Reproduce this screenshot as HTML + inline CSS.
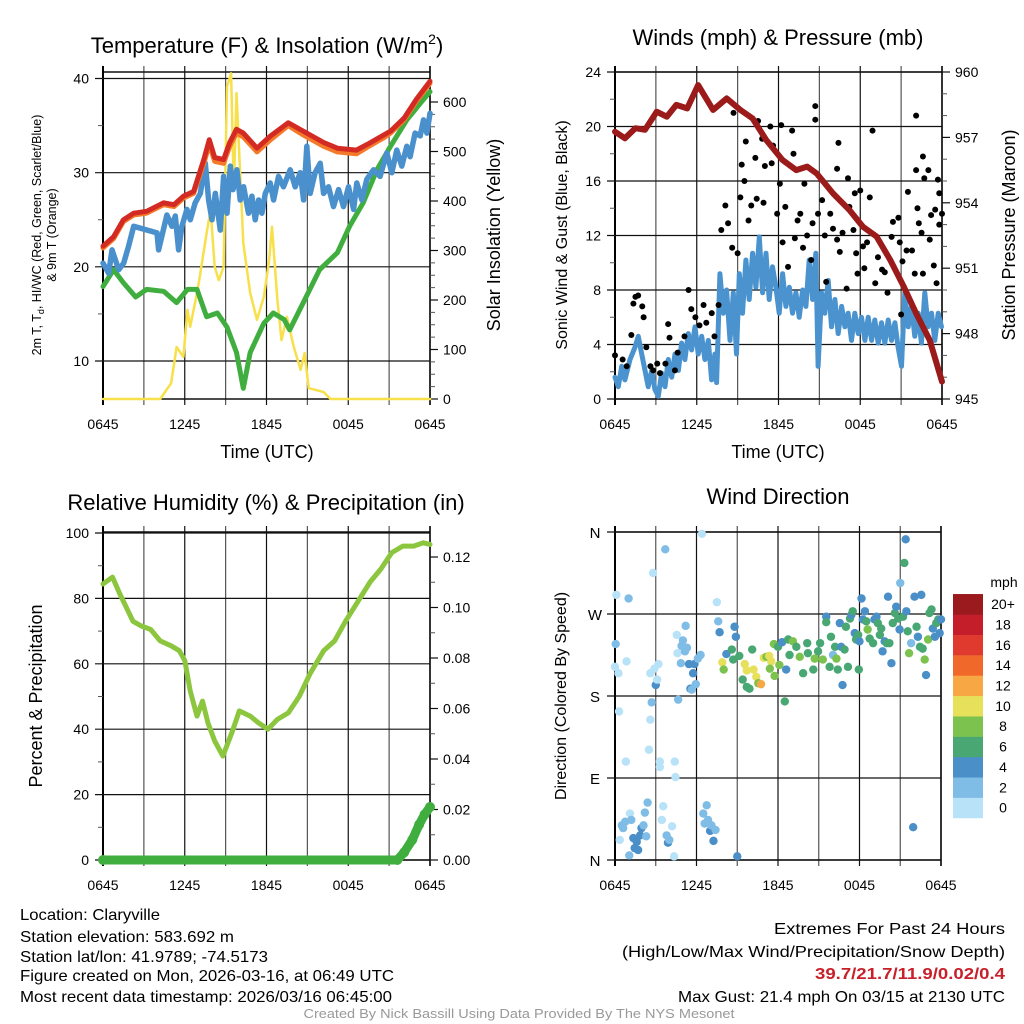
<!DOCTYPE html>
<html><head><meta charset="utf-8"><style>
html,body{margin:0;padding:0;background:#fff;}
svg{display:block;font-family:"Liberation Sans",sans-serif;}
</style></head><body>
<svg id="fig" width="1024" height="1024" viewBox="0 0 1024 1024" xmlns="http://www.w3.org/2000/svg">
<rect width="1024" height="1024" fill="#fff"/>
<g id="layer"></g>
<text x="267" y="53" font-size="22" text-anchor="middle">Temperature (F) &amp; Insolation (W/m<tspan font-size="14" dy="-9">2</tspan><tspan dy="9">)</tspan></text>
<text x="778" y="45" font-size="22" text-anchor="middle">Winds (mph) &amp; Pressure (mb)</text>
<text x="266" y="510" font-size="22" text-anchor="middle">Relative Humidity (%) &amp; Precipitation (in)</text>
<text x="778" y="504" font-size="22" text-anchor="middle">Wind Direction</text>
<text x="267" y="458" font-size="18" text-anchor="middle">Time (UTC)</text>
<text x="778" y="458" font-size="18" text-anchor="middle">Time (UTC)</text>
<text transform="translate(41,235) rotate(-90)" font-size="12.5" text-anchor="middle">2m T, T<tspan font-size="9" dy="3">d</tspan><tspan dy="-3">, HI/WC (Red, Green, Scarlet/Blue)</tspan></text>
<text transform="translate(56,235) rotate(-90)" font-size="12.5" text-anchor="middle">&amp; 9m T (Orange)</text>
<text transform="translate(500,235) rotate(-90)" font-size="18" text-anchor="middle">Solar Insolation (Yellow)</text>
<text transform="translate(567,235) rotate(-90)" font-size="16" text-anchor="middle">Sonic Wind &amp; Gust (Blue, Black)</text>
<text transform="translate(1015,235) rotate(-90)" font-size="18" text-anchor="middle">Station Pressure (Maroon)</text>
<text transform="translate(42,696) rotate(-90)" font-size="18" text-anchor="middle">Percent &amp; Precipitation</text>
<text transform="translate(566,696) rotate(-90)" font-size="16" text-anchor="middle">Direction (Colored By Speed)</text>
<text x="1004" y="587" font-size="14" text-anchor="middle">mph</text>
<g font-size="16">
<text x="20" y="920" textLength="140" lengthAdjust="spacingAndGlyphs">Location: Claryville</text>
<text x="20" y="942" textLength="214" lengthAdjust="spacingAndGlyphs">Station elevation: 583.692 m</text>
<text x="20" y="962" textLength="248" lengthAdjust="spacingAndGlyphs">Station lat/lon: 41.9789; -74.5173</text>
<text x="20" y="981" textLength="374" lengthAdjust="spacingAndGlyphs">Figure created on Mon, 2026-03-16, at 06:49 UTC</text>
<text x="20" y="1002" textLength="372" lengthAdjust="spacingAndGlyphs">Most recent data timestamp: 2026/03/16 06:45:00</text>
</g>
<g font-size="16">
<text x="1005" y="934" text-anchor="end" textLength="231" lengthAdjust="spacingAndGlyphs">Extremes For Past 24 Hours</text>
<text x="1005" y="957" text-anchor="end" textLength="383" lengthAdjust="spacingAndGlyphs">(High/Low/Max Wind/Precipitation/Snow Depth)</text>
<text x="1005" y="979" text-anchor="end" fill="#c8202a" font-weight="bold" textLength="190" lengthAdjust="spacingAndGlyphs">39.7/21.7/11.9/0.02/0.4</text>
<text x="1005" y="1002" text-anchor="end" textLength="327" lengthAdjust="spacingAndGlyphs">Max Gust: 21.4 mph On 03/15 at 2130 UTC</text>
</g>
<text x="519" y="1018" font-size="13" fill="#999" text-anchor="middle" textLength="431" lengthAdjust="spacingAndGlyphs">Created By Nick Bassill Using Data Provided By The NYS Mesonet</text>
</svg>
<script>
var timeLabels = ["0645","1245","1845","0045","0645"];
// Panel 1
var tempHours = [0,0.78,1.5,2.25,3.2,4.45,5.2,5.9,6.65,7.4,7.8,8.2,8.85,9.3,9.8,10.3,11.3,12.3,13.6,14.7,16.2,17.2,18.6,19.4,20.6,21.1,22.1,23.0,24];
var tempVals = [22.2,23.2,25.0,25.7,25.9,26.8,26.6,27.5,28.0,31.4,33.5,31.6,31.4,33.2,34.6,34.2,32.6,33.9,35.3,34.4,33.2,32.6,32.4,33.0,34.0,34.4,35.8,37.8,39.7];
var nineMVals = [22.0,23.0,24.8,25.5,25.7,26.6,26.4,27.3,27.8,31.0,33.0,31.2,31.0,32.8,34.2,33.8,32.2,33.5,35.0,34.0,32.8,32.2,32.0,32.7,33.7,34.2,35.6,37.6,39.5];
var hiHours = [0,0.42,0.66,1.15,1.52,1.88,2.25,3.96,4.08,4.69,5.06,5.31,5.55,5.79,6.16,6.41,6.77,7.14,7.51,7.75,8.0,8.24,8.61,8.85,9.1,9.34,9.54,9.83,10.07,10.32,10.68,10.93,11.17,11.42,11.66,11.91,12.27,12.52,12.88,13.25,13.74,14.11,14.47,14.72,14.96,15.21,15.57,15.94,16.19,16.55,16.92,17.29,17.65,18.02,18.39,18.63,19.0,19.36,19.85,20.34,20.83,21.2,21.56,21.93,22.3,22.54,22.91,23.28,23.52,23.77,24];
var hiVals = [20.4,19.3,21.8,19.7,20.4,22.2,24.3,23.6,21.8,25.5,24.3,25.4,21.8,24.3,26.1,25.0,26.8,27.8,31.0,27.1,25.0,27.8,23.9,29.6,25.7,30.7,28.2,30.3,27.1,28.5,25.7,27.5,25.0,27.1,25.7,27.8,28.9,27.1,29.6,28.5,30.3,28.5,30.0,27.1,32.8,27.8,30.0,31.0,27.8,28.5,26.4,28.2,26.4,28.5,26.1,28.9,27.1,29.3,30.3,29.6,32.1,30.0,32.4,30.7,32.8,31.7,34.2,33.9,35.6,34.2,36.3];
var dewHours = [0,0.78,1.5,2.4,3.2,4.45,5.4,6.2,6.9,7.6,8.4,9.1,9.8,10.3,10.8,11.8,12.5,13.3,13.7,14.7,15.9,17.2,18.1,19.1,20.1,21.1,22.3,23.3,24];
var dewVals = [17.9,19.7,18.3,16.8,17.6,17.4,16.2,17.6,17.6,14.7,15.1,13.6,10.9,7.1,10.9,14.0,15.1,14.4,13.3,16.2,19.7,21.5,24.3,26.8,30.3,32.8,35.6,37.4,38.6];
var solarHours = [0,4.2,5.0,5.4,5.9,6.2,6.4,6.9,7.1,7.6,7.9,8.2,8.5,8.85,9.1,9.4,9.6,9.8,10.3,10.8,11.3,11.8,12.2,12.4,12.8,13.1,13.5,14.0,14.5,14.8,15.1,16.2,16.7,17.2,24];
var solarVals = [0,0,32,105,85,180,146,214,246,335,382,267,240,267,631,658,422,618,315,214,160,206,281,348,200,119,166,105,59,93,22,14,0,0,0];
// Panel 2
var presHours = [0,0.73,1.5,2.2,3.06,3.8,4.5,5.3,6.1,7.2,8.2,9.2,10.1,11.1,12.3,13.3,14.1,14.8,16.0,17.2,18.2,19.2,20.2,21.2,22.1,23.1,24];
var presVals = [957.26,956.96,957.42,957.35,958.18,957.95,958.49,958.33,959.40,958.26,958.79,958.26,957.87,956.88,955.96,955.5,955.66,955.35,954.43,953.67,952.9,952.45,951.38,950.15,948.93,947.7,945.8];
var windHours = [0,0.24,0.49,0.73,1.1,1.47,1.71,1.96,2.2,2.44,2.69,2.93,3.18,3.42,3.67,3.91,4.16,4.4,4.65,4.89,5.13,5.38,5.62,5.87,6.11,6.36,6.6,6.85,7.09,7.33,7.46,7.7,7.95,8.19,8.44,8.68,8.92,9.12,9.36,9.61,9.85,10.1,10.34,10.59,10.83,11.08,11.32,11.56,11.81,12.05,12.3,12.54,12.79,13.03,13.28,13.52,13.77,14.01,14.25,14.5,14.74,14.91,15.16,15.4,15.65,15.89,16.14,16.38,16.63,16.87,17.11,17.36,17.6,17.85,18.09,18.34,18.58,18.83,19.07,19.32,19.56,19.8,20.05,20.29,20.54,20.78,21.03,21.27,21.52,21.76,22.0,22.25,22.49,22.74,22.98,23.23,23.47,23.72,23.96];
var windVals = [1.6,0.9,2.4,1.4,2.9,3.8,4.6,3.3,2.1,0.9,2.1,0.7,0.2,1.9,0.9,2.9,1.6,3.3,2.1,4.1,2.9,4.8,3.6,5.3,3.3,4.6,2.9,4.3,1.4,3.3,1.2,9.2,6.3,8.0,4.3,7.8,3.3,9.2,6.3,10.2,7.3,10.7,8.2,11.9,7.8,10.7,7.3,9.7,8.2,6.3,9.2,6.8,8.2,6.3,7.8,6.0,8.0,6.8,10.2,7.3,10.7,2.4,7.8,6.3,8.7,5.3,7.3,4.8,6.8,5.3,6.3,4.3,6.3,4.8,6.0,4.3,6.0,4.3,5.8,4.1,5.6,4.1,5.8,4.3,5.6,3.8,2.4,7.8,5.3,6.8,4.6,6.3,4.1,7.8,5.3,6.3,4.3,6.3,5.3];
var gustHours = [0,0.56,0.86,1.2,1.35,1.5,1.7,2.0,2.1,2.3,2.6,2.8,3.1,3.3,3.7,3.9,4.0,4.4,4.6,5.1,5.4,5.6,5.9,6.2,6.5,6.7,7.1,7.3,7.6,7.8,8.1,8.3,8.6,9.0,9.2,9.3,8.7,9.5,9.6,9.8,10.0,10.3,10.4,10.5,10.8,10.9,11.0,11.4,11.5,11.6,11.9,12.1,12.2,12.3,12.5,12.7,13.0,13.1,13.2,13.4,13.6,13.8,13.9,14.1,14.4,14.5,14.7,14.7,14.9,15.2,15.4,15.5,15.8,16.0,16.3,16.3,16.4,16.5,16.7,17.0,17.1,17.2,17.5,17.6,17.7,17.8,18.0,18.2,18.3,18.5,18.7,18.9,19.1,19.3,19.6,19.8,20.0,20.3,20.4,20.8,20.9,21.0,21.1,21.4,21.5,21.8,22.0,22.1,22.1,22.2,22.3,22.5,22.6,22.6,22.7,23.0,23.1,23.2,23.4,23.5,23.6,23.7,23.8,23.8,24.0];
var gustVals = [3.2,2.9,2.4,4.7,7.0,7.5,7.6,6.8,6.0,3.8,2.4,2.1,2.6,1.9,2.6,5.5,4.5,2.1,3.4,4.6,8.0,6.6,6.0,5.4,6.9,5.6,6.3,4.6,6.9,12.4,14.2,12.9,11.1,10.7,14.8,17.2,21.0,16.0,18.9,13.1,14.2,17.7,14.7,20.4,19.1,14.4,17.1,20.0,17.3,18.6,13.6,15.8,20.1,11.5,14.1,9.7,19.7,18.0,11.8,13.1,13.6,11.1,15.8,12.0,10.2,12.9,20.5,21.5,13.6,14.6,12.0,8.6,13.6,12.5,11.7,16.9,18.8,10.8,12.2,8.1,16.2,14.1,12.4,15.1,10.7,9.2,15.3,11.2,9.6,11.5,14.8,19.7,8.5,10.4,9.5,9.3,7.8,11.9,13.0,13.3,11.5,6.2,10.1,10.9,15.2,10.9,9.2,20.8,16.8,14.0,12.9,12.2,9.2,17.8,16.2,16.8,11.7,13.5,9.8,13.9,8.5,16.1,15.1,12.8,13.6];
// Panel 3
var rhHours = [0,0.7,1.2,2.2,2.8,3.5,4.2,5.0,5.6,6.0,6.4,6.9,7.3,7.7,8.2,8.8,9.5,10.0,10.8,11.4,12.1,12.8,13.6,14.4,15.2,16.2,17.0,17.8,18.7,19.6,20.4,21.2,22.0,22.8,23.5,24];
var rhVals = [84.4,86.5,81.7,73,71.6,70.5,67,65.5,64,61,51.7,44,48.6,42,36.4,31.8,39.4,45.6,44,42,40,43,45,50,57,64,67,73,79,85,89,94,96,96,97,96.5];
var precipHours = [0,21.6,22.1,22.7,23.2,23.6,24];
var precipVals = [0,0,0.003,0.008,0.014,0.018,0.021];
// Panel 4: [hour, direction(deg), speed(mph)]
var dirPoints = [[0.05,237,3],[0,212,1],[0.1,291,1],[0.25,205,1],[0.3,163,1],[0.8,108,1],[0.85,218,1],[1.0,287,3],[0.35,22,1],[0.5,38,3],[0.6,35,3],[0.75,42,3],[1.1,51,1],[1.2,44,3],[1.05,5,3],[1.35,24,5],[1.45,13,5],[1.6,20,5],[1.7,11,5],[1.85,27,5],[1.95,35,5],[2.1,38,3],[2.2,52,3],[2.3,26,3],[2.4,63,3],[2.5,121,1],[2.6,154,1],[2.7,173,3],[2.6,205,1],[2.9,210,1],[2.8,315,1],[3.0,192,5],[3.1,198,1],[3.2,215,1],[3.3,108,1],[3.3,102,1],[3.45,44,1],[3.55,59,1],[3.7,341,3],[3.8,27,3],[3.9,19,5],[4.0,22,3],[4.2,37,1],[4.35,4,1],[4.4,108,1],[4.45,91,1],[4.55,247,1],[4.6,227,1],[4.65,176,3],[4.85,216,3],[4.9,235,3],[5.0,241,3],[5.15,229,3],[5.2,257,3],[5.3,233,3],[5.45,215,5],[5.55,188,5],[5.65,187,3],[5.75,205,5],[5.85,215,5],[5.95,193,3],[6.1,221,3],[6.3,225,3],[6.4,358,1],[6.5,51,3],[6.6,40,3],[6.75,60,3],[6.85,44,3],[7.0,32,5],[7.1,38,3],[7.25,21,5],[7.4,33,3],[7.5,283,1],[7.6,262,3],[7.7,250,5],[7.9,217,11],[8.0,209,9],[8.2,226,5],[8.6,231,7],[8.7,220,7],[8.8,256,5],[8.9,245,5],[9.0,4,5],[9.15,224,7],[9.4,198,7],[9.55,215,11],[9.7,208,11],[9.7,190,7],[9.9,188,7],[10.1,231,7],[10.2,209,11],[10.4,201,11],[10.55,194,9],[10.75,193,13],[10.95,222,11],[11.15,223,9],[11.35,224,11],[11.5,218,11],[11.4,210,9],[11.7,237,9],[11.75,202,9],[12.0,234,7],[12.1,214,9],[12.3,239,5],[12.5,174,7],[12.75,242,7],[12.6,209,5],[12.85,225,7],[13.1,240,9],[13.35,234,7],[13.6,223,9],[13.85,205,7],[14.15,238,7],[14.2,227,7],[14.6,209,7],[14.7,221,9],[14.95,229,7],[15.1,238,7],[15.3,220,9],[15.55,267,5],[15.55,261,7],[15.8,212,7],[15.9,245,7],[16.05,225,3],[16.2,234,7],[16.3,221,9],[16.4,209,7],[16.55,260,5],[16.65,234,5],[16.75,192,5],[16.9,231,7],[17.0,256,7],[17.15,212,7],[17.3,265,7],[17.4,269,5],[17.5,273,7],[17.65,249,5],[17.75,242,7],[17.9,247,7],[17.95,209,7],[18.0,240,5],[18.15,287,5],[18.25,264,5],[18.4,273,5],[18.5,262,7],[18.6,253,9],[18.75,243,7],[19.0,238,7],[19.1,264,5],[19.25,267,5],[19.35,260,7],[19.5,247,7],[19.6,254,7],[19.7,229,5],[19.85,240,5],[20.0,238,7],[20.1,289,5],[20.2,238,7],[20.35,216,5],[20.45,260,7],[20.6,271,7],[20.7,278,5],[20.85,265,7],[20.95,253,5],[21.0,304,3],[21.2,267,7],[21.3,326,7],[21.4,352,5],[21.45,273,5],[21.55,251,7],[21.65,227,9],[21.8,238,3],[21.95,36,5],[22.05,289,5],[22.2,256,7],[22.3,245,5],[22.45,234,7],[22.55,291,5],[22.65,232,7],[22.8,220,9],[22.9,203,5],[23.05,242,9],[23.15,271,7],[23.3,275,7],[23.4,254,5],[23.55,245,5],[23.65,260,7],[23.8,264,7],[23.9,249,5],[24.0,264,5]];
var speedColors = ["#b8e2f7","#7fbce6","#4a8fc8","#48a772","#7bc24e","#e6e05a","#f7a845","#f0682a","#e03a2e","#c31e2a","#9a1a1d"];
var speedLabels = ["0","2","4","6","8","10","12","14","16","18","20+"];
var tempTicks = [10,20,30,40];
var solarTicks = [0,100,200,300,400,500,600];
var windTicks = [0,4,8,12,16,20,24];
var presTicks = [945,948,951,954,957,960];
var rhTicks = [0,20,40,60,80,100];
var precipTicks = [0,0.02,0.04,0.06,0.08,0.10,0.12];
var dirTicks = [0,90,180,270,360];
var dirTickLabels = ["N","E","S","W","N"];

var NS = "http://www.w3.org/2000/svg";
var layer = document.getElementById('layer');
function mk(tag, attrs, parent){
  var e = document.createElementNS(NS, tag);
  for (var k in attrs) e.setAttribute(k, attrs[k]);
  (parent||layer).appendChild(e);
  return e;
}
function axisX(P){ return function(h){ return P.x0 + h*(P.x1-P.x0)/24; }; }
function lin(v0,p0,v1,p1){ return function(v){ return p0 + (v-v0)*(p1-p0)/(v1-v0); }; }

var P1 = {x0:103,x1:430,y0:72,y1:399};
var P2 = {x0:615,x1:942,y0:72,y1:399};
var P3 = {x0:103,x1:430,y0:532,y1:860};
var P4 = {x0:615,x1:941,y0:532,y1:860};

function frame(P, name){
  var g = mk('g', {});
  
  
  var X = axisX(P);
  for (var i=0;i<=8;i++){
    var x = X(i*3);
    mk('line',{x1:x,y1:P.y0-6,x2:x,y2:P.y1+6,stroke:(i%2?'#555':'#111'),'stroke-width':1.2},g);
  }
  for (var j=0;j<timeLabels.length;j++){
    var t = mk('text',{x:X(j*6),y:P.y1+30,'font-size':14,'text-anchor':'middle'},g);
    t.textContent = timeLabels[j];
    
    
  }
  mk('line',{x1:P.x0,y1:P.y0,x2:P.x1,y2:P.y0,stroke:'#111','stroke-width':1.5},g);
  mk('line',{x1:P.x0,y1:P.y1,x2:P.x1,y2:P.y1,stroke:'#111','stroke-width':1.5},g);
  mk('line',{x1:P.x0,y1:P.y0-6,x2:P.x0,y2:P.y1+6,stroke:'#000','stroke-width':2},g);
  mk('line',{x1:P.x1,y1:P.y0-6,x2:P.x1,y2:P.y1+6,stroke:'#000','stroke-width':1.5},g);
  return g;
}
function leftTicks(P, ticks, Y, name, fmt, minor){
  for (var i=0;i<ticks.length;i++){
    var y = Y(ticks[i]);
    mk('line',{x1:P.x0-8,y1:y,x2:P.x1,y2:y,stroke:'#111','stroke-width':1.2});
    var t = mk('text',{x:P.x0-14,y:y+5,'font-size':14,'text-anchor':'end'});
    t.textContent = fmt ? fmt(ticks[i]) : ticks[i];
    
    
    if (minor && i<ticks.length-1){
      var ym = Y((ticks[i]+ticks[i+1])/2);
      mk('line',{x1:P.x0-5,y1:ym,x2:P.x0,y2:ym,stroke:'#555','stroke-width':1});
    }
  }
}
function rightTicks(P, ticks, Y, name, fmt, nminor){
  for (var i=0;i<ticks.length;i++){
    var y = Y(ticks[i]);
    mk('line',{x1:P.x1,y1:y,x2:P.x1+8,y2:y,stroke:'#111','stroke-width':1.2});
    var t = mk('text',{x:P.x1+13,y:y+5,'font-size':14,'text-anchor':'start'});
    t.textContent = fmt ? fmt(ticks[i]) : ticks[i];
    
    
    if (i<ticks.length-1){
      for (var k=1;k<nminor;k++){
        var ym = Y(ticks[i]+(ticks[i+1]-ticks[i])*k/nminor);
        mk('line',{x1:P.x1,y1:ym,x2:P.x1+5,y2:ym,stroke:'#555','stroke-width':1});
      }
    }
  }
}
function drawLine(hours, vals, X, Y, color, w, name){
  var pts = [];
  for (var i=0;i<hours.length;i++) pts.push(X(hours[i]).toFixed(1)+','+Y(vals[i]).toFixed(1));
  var p = mk('polyline',{points:pts.join(' '),fill:'none',stroke:color,'stroke-width':w,'stroke-linejoin':'round','stroke-linecap':'round'});
  
  
  return p;
}

// Panel 1
var X1 = axisX(P1);
var Y1 = lin(10,361,40,78.5);
var Y1r = lin(0,399,600,102);
frame(P1,'temp');
leftTicks(P1, tempTicks, Y1, 'temp-y', null, true);
rightTicks(P1, solarTicks, Y1r, 'solar-y', null, 4);
drawLine(solarHours, solarVals, X1, Y1r, '#f7e04a', 2.5, 'solar-insolation-line');
drawLine(dewHours, dewVals, X1, Y1, '#3fae3f', 5, 'dewpoint-line');
drawLine(hiHours, hiVals, X1, Y1, '#4a90cc', 5.5, 'heat-index-wind-chill-line');
drawLine(tempHours, nineMVals, X1, Y1, '#f47a2a', 5, 'temp-9m-line');
drawLine(tempHours, tempVals, X1, Y1, '#d42a24', 5, 'temp-2m-line');

// Panel 2
var X2 = axisX(P2);
var Y2 = lin(0,399,24,72);
var Y2r = lin(945,399,960,72);
frame(P2,'wind');
leftTicks(P2, windTicks, Y2, 'wind-y', null, true);
rightTicks(P2, presTicks, Y2r, 'pressure-y', null, 3);
drawLine(windHours, windVals, X2, Y2, '#4a93cf', 5, 'sonic-wind-line');
for (var i=0;i<gustHours.length;i++){
  var c = mk('circle',{cx:X2(gustHours[i]),cy:Y2(gustVals[i]),r:3,fill:'#000'});
  
  
}
drawLine(presHours, presVals, X2, Y2r, '#9b1b1b', 6, 'pressure-line');

// Panel 3
var X3 = axisX(P3);
var Y3 = lin(0,860,100,533);
var Y3r = lin(0,860,0.12,557);
frame(P3,'rh');
leftTicks(P3, rhTicks, Y3, 'rh-y', null, true);
rightTicks(P3, precipTicks, Y3r, 'precip-y', function(v){return v.toFixed(2);}, 2);
drawLine(rhHours, rhVals, X3, Y3, '#8cc63f', 5, 'relative-humidity-line');
drawLine(precipHours, precipVals, X3, Y3r, '#3fae3f', 9, 'precipitation-line');
for (var i=0;i<precipHours.length;i++){
  var c = mk('circle',{cx:X3(precipHours[i]),cy:Y3r(precipVals[i]),r:5,fill:'#3fae3f'});
  
  
}

// Panel 4
var X4 = axisX(P4);
var Y4 = lin(0,860,360,532);
frame(P4,'direction');
for (var i=0;i<dirTicks.length;i++){
  var y = Y4(dirTicks[i]);
  mk('line',{x1:P4.x0-8,y1:y,x2:P4.x1,y2:y,stroke:'#111','stroke-width':1.2});
  var t = mk('text',{x:P4.x0-20,y:y+6,'font-size':15,'text-anchor':'middle'});
  t.textContent = dirTickLabels[i];
  
  
}
for (var i=0;i<dirPoints.length;i++){
  var d = dirPoints[i];
  var bin = Math.min(10, Math.floor(d[2]/2));
  var c = mk('circle',{cx:X4(d[0]),cy:Y4(d[1]),r:4.2,fill:speedColors[bin]});
  
  
}
for (var i=0;i<speedColors.length;i++){
  var yb = 818 - (i+1)*20.36;
  var r = mk('rect',{x:953,y:yb,width:30,height:20.6,fill:speedColors[i]});
  
  
  var t = mk('text',{x:1003,y:yb+15,'font-size':14,'text-anchor':'middle'});
  t.textContent = speedLabels[i];
  
  
}
</script>
</body></html>
